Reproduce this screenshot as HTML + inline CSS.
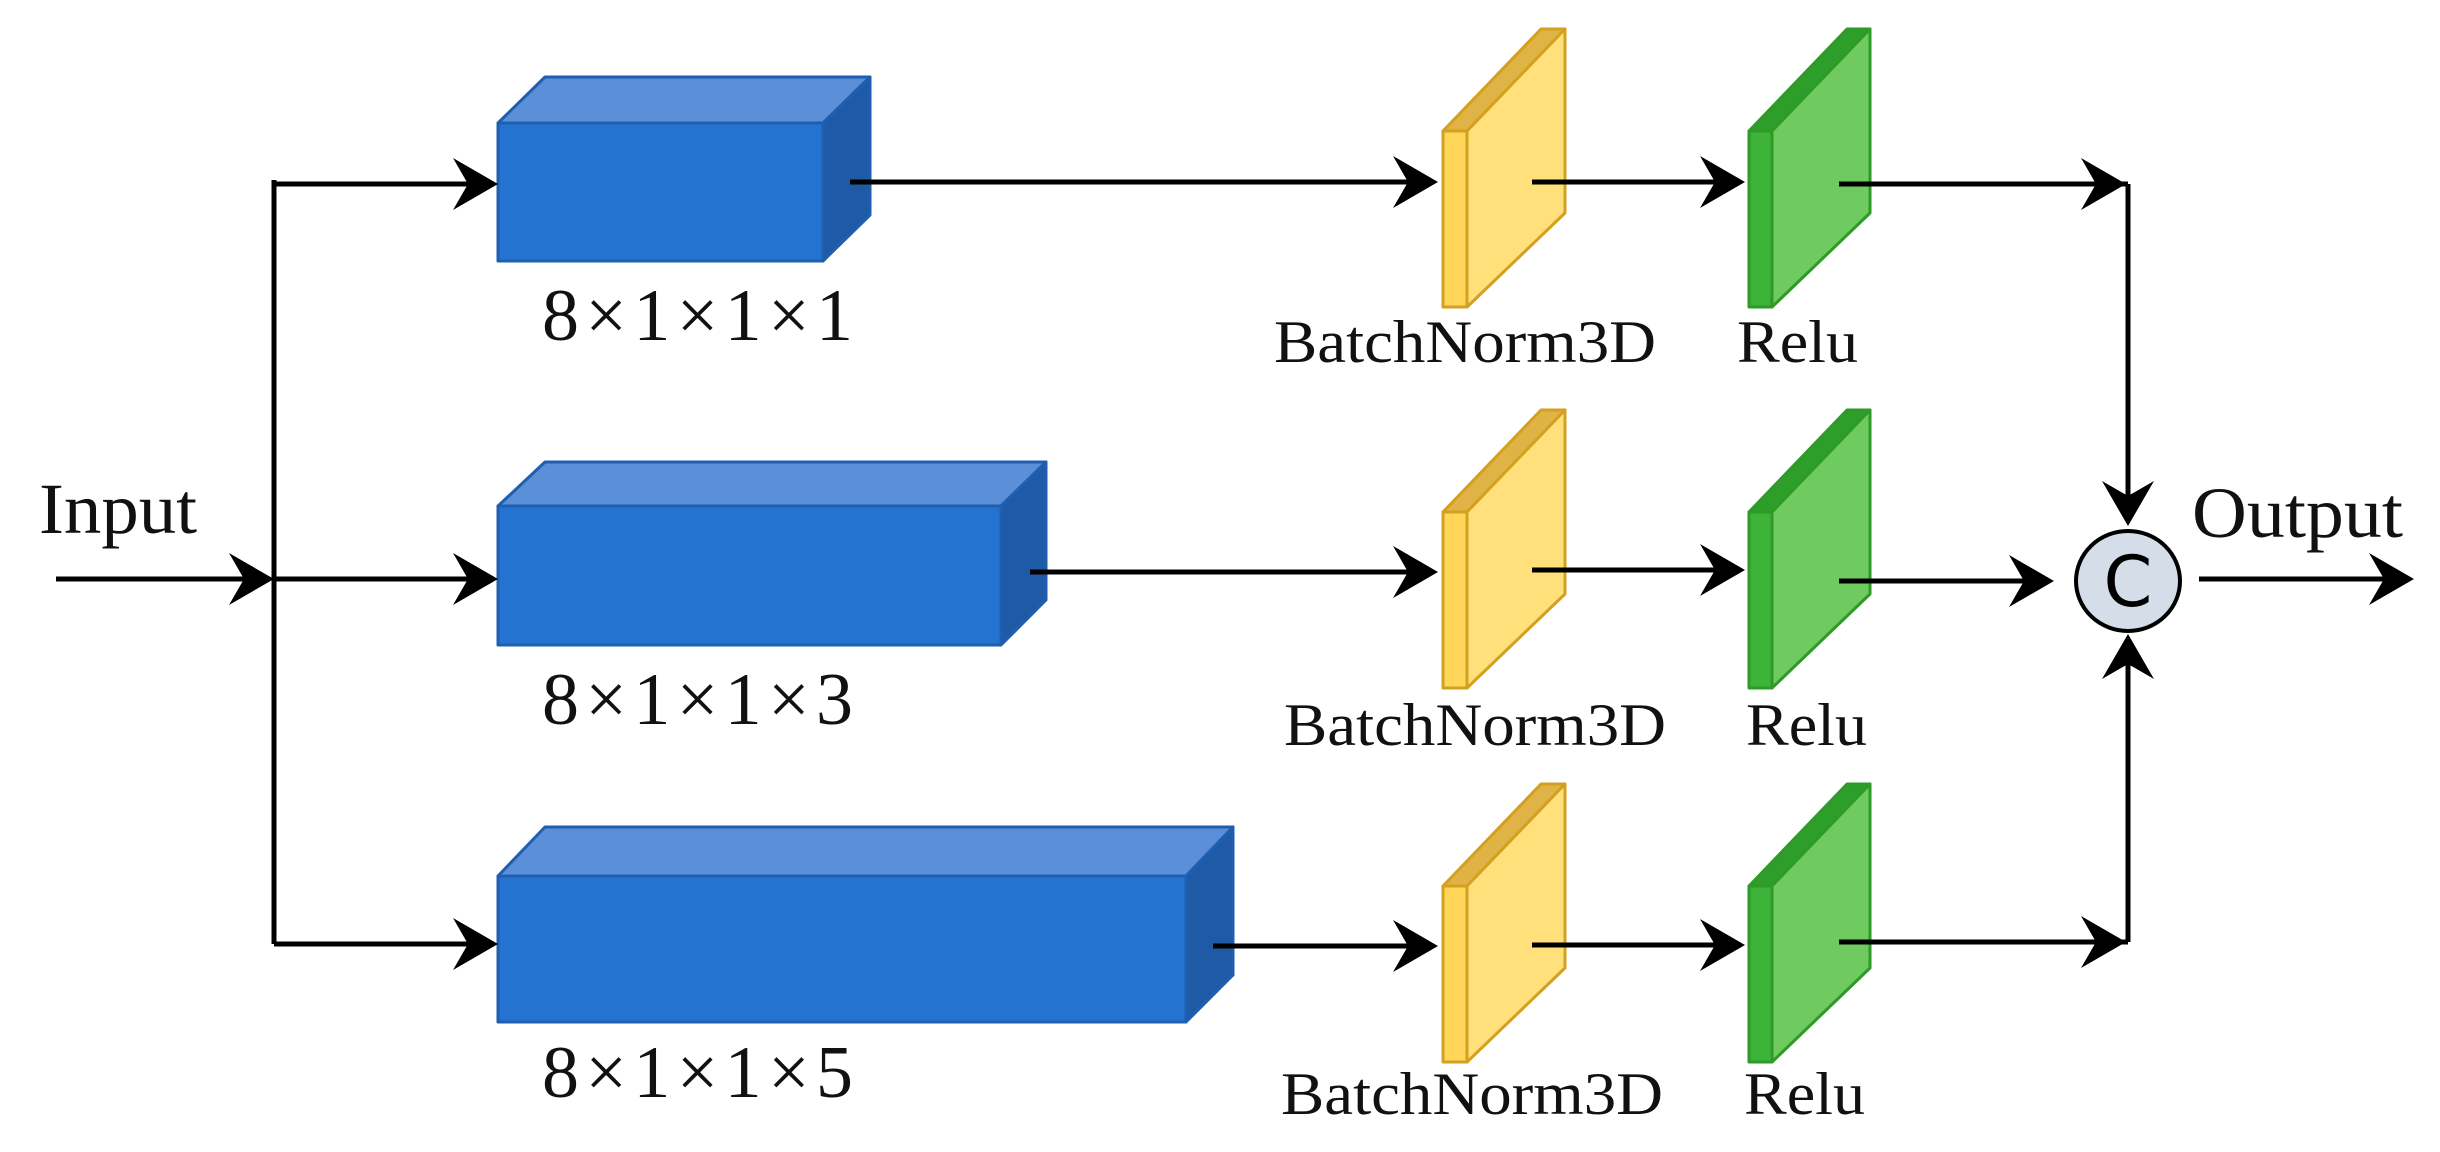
<!DOCTYPE html>
<html><head><meta charset="utf-8"><style>html,body{margin:0;padding:0;background:#fff}svg{display:block}</style></head><body>
<svg width="2440" height="1152" viewBox="0 0 2440 1152" xmlns="http://www.w3.org/2000/svg">
<g stroke="#1F5FB0" stroke-width="3" stroke-linejoin="round">
<polygon points="498,123 545,77 870,77 823,123" fill="#5B8FD8"/>
<polygon points="823,123 870,77 870,215 823,261" fill="#1E5AA5"/>
<rect x="498" y="123" width="325" height="138" fill="#2573D0"/>
<polygon points="498,506 545,462 1046,462 1001,506" fill="#5B8FD8"/>
<polygon points="1001,506 1046,462 1046,600 1001,645" fill="#1E5AA5"/>
<rect x="498" y="506" width="503" height="139" fill="#2573D0"/>
<polygon points="498,876 545,827 1233,827 1186,876" fill="#5B8FD8"/>
<polygon points="1186,876 1233,827 1233,975 1186,1022" fill="#1E5AA5"/>
<rect x="498" y="876" width="688" height="146" fill="#2573D0"/>
</g>
<g stroke="#D4A020" stroke-width="3" stroke-linejoin="round">
<g id="bn">
<polygon points="1443,131 1467,131 1565,29 1541,29" fill="#E0B347"/>
<polygon points="1467,131 1565,29 1565,213 1467,307" fill="#FFE07A"/>
<rect x="1443" y="131" width="24" height="176" fill="#FFD55A"/>
</g>
<use href="#bn" transform="translate(0,381)"/>
<use href="#bn" transform="translate(0,755)"/>
</g>
<g stroke="#2E9A28" stroke-width="3" stroke-linejoin="round">
<g id="rl">
<polygon points="1749,131 1772,131 1870,29 1847,29" fill="#2E9E2A"/>
<polygon points="1772,131 1870,29 1870,213 1772,307" fill="#6FCB5F"/>
<rect x="1749" y="131" width="23" height="176" fill="#3DB33A"/>
</g>
<use href="#rl" transform="translate(0,381)"/>
<use href="#rl" transform="translate(0,755)"/>
</g>
<g stroke="#000" stroke-width="5" fill="none">
<line x1="56" y1="579" x2="262" y2="579"/>
<line x1="274" y1="180" x2="274" y2="944"/>
<line x1="274" y1="184" x2="486" y2="184"/>
<line x1="274" y1="579" x2="486" y2="579"/>
<line x1="274" y1="944" x2="486" y2="944"/>
<line x1="850" y1="182" x2="1426" y2="182"/>
<line x1="1030" y1="572" x2="1426" y2="572"/>
<line x1="1213" y1="946" x2="1426" y2="946"/>
<line x1="1532" y1="182" x2="1733" y2="182"/>
<line x1="1532" y1="570" x2="1733" y2="570"/>
<line x1="1532" y1="945" x2="1733" y2="945"/>
<line x1="1839" y1="184" x2="2128" y2="184"/>
<line x1="1839" y1="581" x2="2042" y2="581"/>
<line x1="1839" y1="942" x2="2128" y2="942"/>
<line x1="2128" y1="184" x2="2128" y2="514"/>
<line x1="2128" y1="942" x2="2128" y2="646"/>
<line x1="2199" y1="579" x2="2402" y2="579"/>
</g>
<g fill="#000">
<polygon points="274,579 229,553 244,579 229,605"/>
<polygon points="498,184 453,158 468,184 453,210"/>
<polygon points="498,579 453,553 468,579 453,605"/>
<polygon points="498,944 453,918 468,944 453,970"/>
<polygon points="1438,182 1393,156 1408,182 1393,208"/>
<polygon points="1438,572 1393,546 1408,572 1393,598"/>
<polygon points="1438,946 1393,920 1408,946 1393,972"/>
<polygon points="1745,182 1700,156 1715,182 1700,208"/>
<polygon points="1745,570 1700,544 1715,570 1700,596"/>
<polygon points="1745,945 1700,919 1715,945 1700,971"/>
<polygon points="2126,184 2081,158 2096,184 2081,210"/>
<polygon points="2054,581 2009,555 2024,581 2009,607"/>
<polygon points="2126,942 2081,916 2096,942 2081,968"/>
<polygon points="2414,579 2369,553 2384,579 2369,605"/>
<polygon points="2128,526 2102,481 2128,496 2154,481"/>
<polygon points="2128,634 2102,679 2128,664 2154,679"/>
</g>
<ellipse cx="2128" cy="581" rx="52" ry="50" fill="#D5DDE8" stroke="#000" stroke-width="4"/>
<text x="2128" y="606" text-anchor="middle" font-family="DejaVu Sans, sans-serif" font-size="70" fill="#000">C</text>
<g font-family="Liberation Serif, serif" fill="#111">
<text x="39" y="533" font-size="72" textLength="158" lengthAdjust="spacingAndGlyphs">Input</text>
<text x="2192" y="537" font-size="72" textLength="211" lengthAdjust="spacingAndGlyphs">Output</text>
<text x="542" y="340" font-size="74" textLength="311" lengthAdjust="spacing">8×1×1×1</text>
<text x="542" y="724" font-size="74" textLength="311" lengthAdjust="spacing">8×1×1×3</text>
<text x="542" y="1097" font-size="74" textLength="311" lengthAdjust="spacing">8×1×1×5</text>
<text x="1274" y="362" font-size="60" textLength="382" lengthAdjust="spacingAndGlyphs">BatchNorm3D</text>
<text x="1284" y="745" font-size="60" textLength="382" lengthAdjust="spacingAndGlyphs">BatchNorm3D</text>
<text x="1281" y="1114" font-size="60" textLength="382" lengthAdjust="spacingAndGlyphs">BatchNorm3D</text>
<text x="1737" y="362" font-size="60" textLength="121" lengthAdjust="spacingAndGlyphs">Relu</text>
<text x="1746" y="745" font-size="60" textLength="121" lengthAdjust="spacingAndGlyphs">Relu</text>
<text x="1744" y="1114" font-size="60" textLength="121" lengthAdjust="spacingAndGlyphs">Relu</text>
</g>
</svg>
</body></html>
